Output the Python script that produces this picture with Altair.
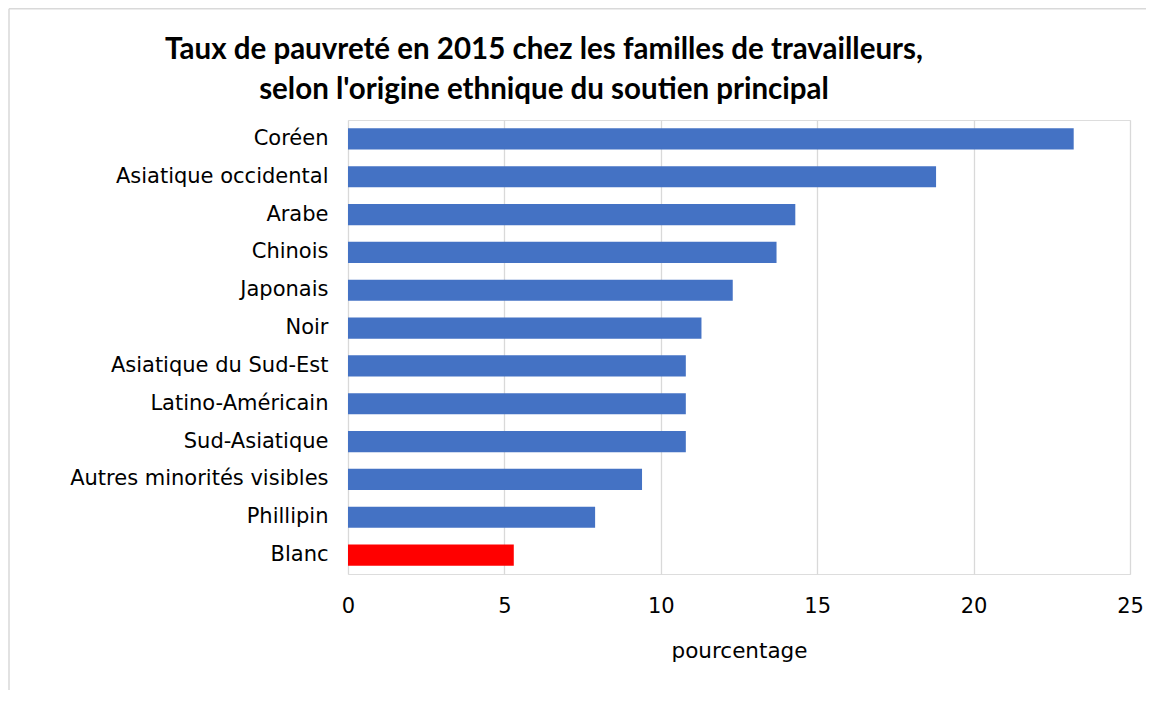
import altair as alt
import pandas as pd

categories = ["Coréen", "Asiatique occidental", "Arabe", "Chinois", "Japonais", "Noir",
              "Asiatique du Sud-Est", "Latino-Américain", "Sud-Asiatique",
              "Autres minorités visibles", "Phillipin", "Blanc"]
values = [23.2, 18.8, 14.3, 13.7, 12.3, 11.3, 10.8, 10.8, 10.8, 9.4, 7.9, 5.3]
colors = ["#4472C4"] * 11 + ["#FF0000"]

df = pd.DataFrame({"cat": categories, "val": values, "col": colors})
frame_df = pd.DataFrame({"b": [0]})

bars = alt.Chart(df).mark_bar().encode(
    y=alt.Y("cat:N", sort=categories, title=None,
            scale=alt.Scale(paddingInner=0.44, paddingOuter=0.22),
            axis=alt.Axis(domain=False, ticks=False, labelFontSize=21, labelFont="DejaVu Sans",
                          labelColor="#000000", labelPadding=20, labelLimit=400, grid=False)),
    x=alt.X("val:Q", title="pourcentage",
            scale=alt.Scale(domain=[0, 25], nice=False),
            axis=alt.Axis(values=[0, 5, 10, 15, 20, 25], domain=False, ticks=False,
                          labelFontSize=21, labelFont="DejaVu Sans", labelColor="#000000",
                          labelPadding=21, labelFlush=False, grid=True, gridColor="#d9d9d9",
                          gridWidth=1.3, titleFont="DejaVu Sans", titleFontSize=21.5,
                          titleFontWeight="normal", titleColor="#000000", titlePadding=24)),
    color=alt.Color("col:N", scale=None),
)

top_line = alt.Chart(frame_df).mark_rule(color="#d9d9d9", strokeWidth=1.5).encode(
    x=alt.value(-339), x2=alt.value(810), y=alt.value(-111.3))
left_line = alt.Chart(frame_df).mark_rule(color="#d9d9d9", strokeWidth=1.5).encode(
    x=alt.value(-339), y=alt.value(-111.3), y2=alt.value(700))

chart = alt.layer(bars, top_line, left_line).properties(
    width=782, height=454,
    title=alt.TitleParams(
        text=["Taux de pauvreté en 2015 chez les familles de travailleurs,",
              "selon l'origine ethnique du soutien principal"],
        font="Lato", fontSize=29.5, fontWeight="bold", color="#000000",
        anchor="middle", frame="group", dx=-195, offset=-98, lineHeight=40),
    autosize=alt.AutoSizeParams(type="none"),
    padding={"left": 340, "top": 112, "right": 16, "bottom": 116},
).configure_view(stroke=None).configure(background="white")

chart.save("out.html", embed_options={"renderer": "svg", "actions": False})
